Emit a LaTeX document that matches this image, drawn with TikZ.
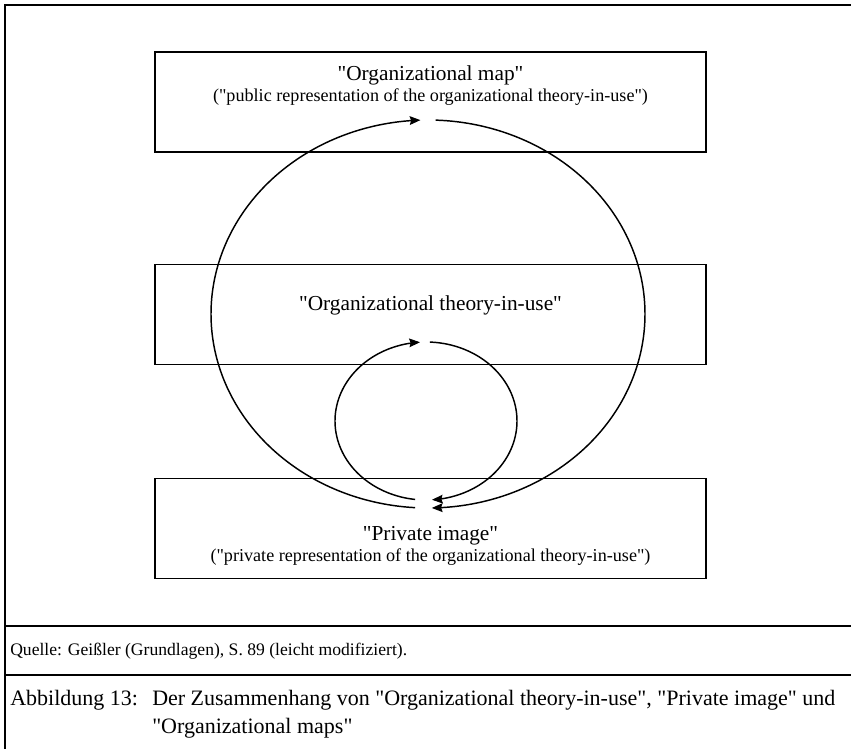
\documentclass[tikz,border=0pt]{standalone}
\usepackage{fontspec}
\setmainfont{Liberation Serif}[Ligatures=TeXOff]
\usetikzlibrary{arrows.meta}
\begin{document}
\begin{tikzpicture}[x=0.75pt,y=-0.75pt,
  box/.style={draw, line width=1.4pt, minimum width=413.25pt, minimum height=75pt, inner sep=0pt},
  loop/.style={line width=1.1pt, -{Stealth[length=8pt,width=6.5pt,inset=1pt]}},
  frameline/.style={line width=1.1pt},
  ttl/.style={font=\fontsize{16}{19}\selectfont, inner sep=0pt},
  sub/.style={font=\fontsize{13.6}{16}\selectfont, inner sep=0pt},
  src/.style={font=\fontsize{13.2}{15}\selectfont, inner sep=0pt, anchor=west},
  captext/.style={font=\fontsize{16.5}{20}\selectfont, inner sep=0pt, anchor=west}]
\useasboundingbox (0,0) rectangle (851,749);
% frame
\draw[frameline] (5,749) -- (5,5) -- (851,5);
\draw[frameline] (5,626) -- (851,626);
\draw[frameline] (5,675) -- (851,675);
% boxes
\node[box] (map) at (430.5,102) {};
\node[box] (theory) at (430.5,314.5) {};
\node[box] (private) at (430.5,528.5) {};
% texts
\node[ttl] (maptitle) at (430.5,75) {"Organizational map"};
\node[sub] (mapsub) at (430.5,97) {("public representation of the organizational theory-in-use")};
\node[ttl] (theorytitle) at (430.5,305) {"Organizational theory-in-use"};
\node[ttl] (privtitle) at (430.5,536) {"Private image"};
\node[sub] (privsub) at (430.5,557) {("private representation of the organizational theory-in-use")};
% loops
\draw[loop] plot[domain=93.4:268, samples=120, smooth] ({428+217*cos(\x)}, {314+194*sin(\x)});
\draw[loop] plot[domain=272:449, samples=120, smooth] ({428+217*cos(\x)}, {314+194*sin(\x)});
\draw[loop] plot[domain=96.9:266.2, samples=100, smooth] ({426+91*cos(\x)}, {421+79*sin(\x)});
\draw[loop] plot[domain=272.5:446.2, samples=100, smooth] ({426+91*cos(\x)}, {421+79*sin(\x)});
% source and caption
\node[src] (quelle) at (10,651) {Quelle: Geißler (Grundlagen), S. 89 (leicht modifiziert).};
\node[captext] (abb) at (10,700) {Abbildung 13:};
\node[captext] (capl1) at (152,700) {Der Zusammenhang von "Organizational theory-in-use", "Private image" und};
\node[captext] (capl2) at (152,728) {"Organizational maps"};
\end{tikzpicture}
\end{document}
